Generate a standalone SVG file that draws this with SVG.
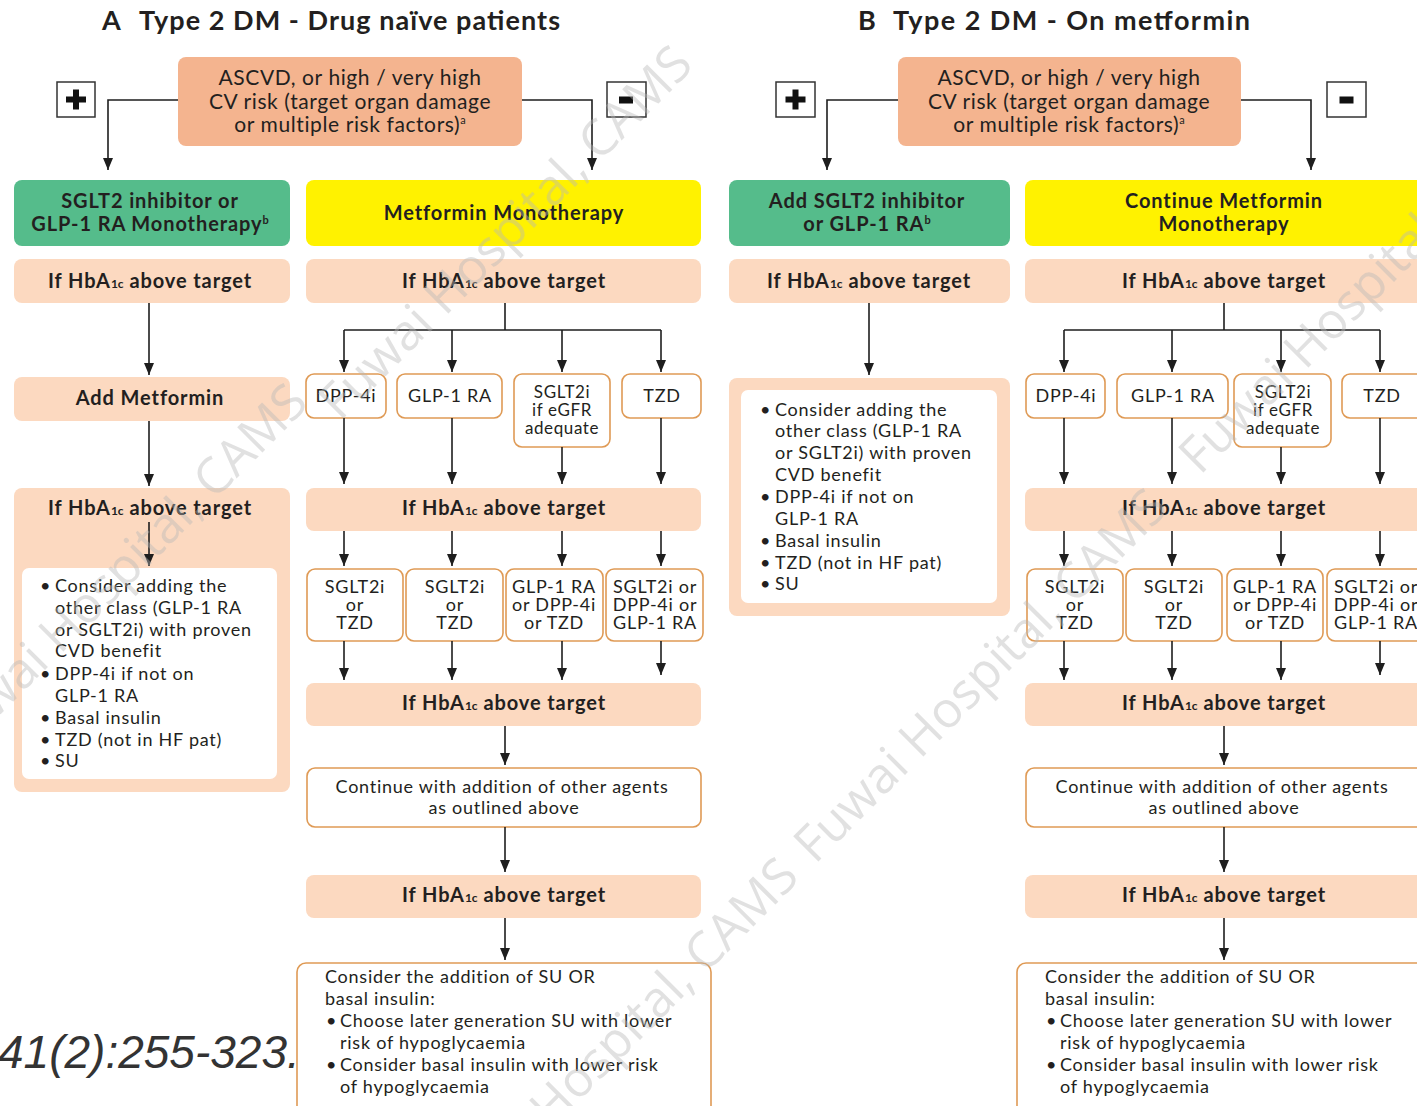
<svg xmlns="http://www.w3.org/2000/svg" width="1417" height="1106" viewBox="0 0 1417 1106">
<defs>
<marker id="ah" viewBox="0 0 12 10" refX="12" refY="5" markerWidth="12" markerHeight="11" markerUnits="userSpaceOnUse" orient="auto">
<path d="M0,0 L12,5 L0,10 z" fill="#1e1e1e"/>
</marker>
<style>
text{font-family:Lato,"Open Sans","Liberation Sans",sans-serif;fill:#231f20}
.title{font-size:27px;font-weight:bold}
.top{fill:#f4b48f}
.grn{fill:#55bc8b}
.yel{fill:#fff200}
.pch{fill:#fcd9c0}
.opt{fill:#fff;stroke:#df9a55;stroke-width:1.6}
.wht{fill:#fff}
.c{text-anchor:middle}
.t20{font-size:21px;letter-spacing:0.6px}
.b19{font-size:20px;font-weight:bold;letter-spacing:0.9px}
.r18{font-size:18px;letter-spacing:0.75px}
.r17{font-size:17px;letter-spacing:0.6px}
.sub{font-size:12px;letter-spacing:0}
.sup{font-size:11px;letter-spacing:0}
.sign{fill:#fff;stroke:#333;stroke-width:1.5}
.conn path{fill:none;stroke:#1e1e1e;stroke-width:1.6}
.arr{marker-end:url(#ah)}
.wm text{font-family:"Open Sans",Lato,sans-serif;font-size:50px;fill:#b8b8b8;fill-opacity:0.42}
.cite{font-family:"Liberation Sans",Arial,sans-serif;font-style:italic;font-size:46px;fill:#333}
</style>
</defs>
<rect width="1417" height="1106" fill="#fff"/>

<text class="cite" x="-2" y="1068">41(2):255-323.</text>

<!-- ============ PANEL A ============ -->
<g id="titleA"><text class="title" x="102" y="30">A</text><text class="title" x="139" y="30" textLength="421" lengthAdjust="spacing">Type 2 DM - Drug naïve patients</text></g>

<g id="riskA">
<rect class="top" x="178" y="57" width="344" height="89" rx="8"/>
<text class="c t20" x="350" y="85">ASCVD, or high / very high</text>
<text class="c t20" x="350" y="109">CV risk (target organ damage</text>
<text class="c t20" x="350" y="132">or multiple risk factors)<tspan class="sup" dy="-8">a</tspan></text>
</g>
<g id="plusA"><rect class="sign" x="57" y="82" width="38" height="35"/><rect x="66" y="96.5" width="20" height="6" fill="#111"/><rect x="73" y="89.5" width="6" height="20" fill="#111"/></g>
<g id="minusA"><rect class="sign" x="607" y="82" width="39" height="35"/><rect x="619" y="96.5" width="14" height="7" fill="#111"/></g>

<g id="greenA">
<rect class="grn" x="14" y="180" width="276" height="66" rx="8"/>
<text class="c b19" x="150" y="208">SGLT2 inhibitor or</text>
<text class="c b19" x="150" y="231">GLP-1 RA Monotherapy<tspan class="sup" dy="-7">b</tspan></text>
</g>
<g id="yellowA">
<rect class="yel" x="306" y="180" width="395" height="66" rx="8"/>
<text class="c b19" x="504" y="220">Metformin Monotherapy</text>
</g>

<g id="ifAL1"><rect class="pch" x="14" y="259" width="276" height="44" rx="8"/><text class="c b19" x="150" y="288">If HbA<tspan class="sub">1c</tspan> above target</text></g>
<g id="addMetA"><rect class="pch" x="14" y="377" width="276" height="44" rx="8"/><text class="c b19" x="150" y="405">Add Metformin</text></g>
<g id="ifAL2">
<rect class="pch" x="14" y="488" width="276" height="304" rx="8"/>
<text class="c b19" x="150" y="515">If HbA<tspan class="sub">1c</tspan> above target</text>
<rect class="wht" x="22" y="568" width="255" height="211" rx="7"/>
<g class="r18">
<text x="40" y="592">•</text><text x="55" y="592">Consider adding the</text>
<text x="55" y="614">other class (GLP-1 RA</text>
<text x="55" y="636">or SGLT2i) with proven</text>
<text x="55" y="657">CVD benefit</text>
<text x="40" y="680">•</text><text x="55" y="680">DPP-4i if not on</text>
<text x="55" y="702">GLP-1 RA</text>
<text x="40" y="724">•</text><text x="55" y="724">Basal insulin</text>
<text x="40" y="746">•</text><text x="55" y="746">TZD (not in HF pat)</text>
<text x="40" y="767">•</text><text x="55" y="767">SU</text>
</g>
</g>

<g id="ifAR1"><rect class="pch" x="306" y="259" width="395" height="44" rx="8"/><text class="c b19" x="504" y="288">If HbA<tspan class="sub">1c</tspan> above target</text></g>
<g id="dppA"><rect class="opt" x="306" y="374" width="80" height="44" rx="8"/><text class="c r18" x="346" y="402">DPP-4i</text></g>
<g id="glpA"><rect class="opt" x="397" y="374" width="105" height="44" rx="8"/><text class="c r18" x="450" y="402">GLP-1 RA</text></g>
<g id="sgltA"><rect class="opt" x="514" y="374" width="96" height="73" rx="8"/><text class="c r17" x="562" y="398">SGLT2i</text><text class="c r17" x="562" y="416">if eGFR</text><text class="c r17" x="562" y="434">adequate</text></g>
<g id="tzdA"><rect class="opt" x="622" y="374" width="79" height="44" rx="8"/><text class="c r18" x="662" y="402">TZD</text></g>
<g id="ifAR2"><rect class="pch" x="306" y="488" width="395" height="43" rx="8"/><text class="c b19" x="504" y="515">If HbA<tspan class="sub">1c</tspan> above target</text></g>
<g id="o1A"><rect class="opt" x="307" y="569" width="96" height="72" rx="8"/><text class="c r18" x="355" y="593">SGLT2i</text><text class="c r18" x="355" y="611">or</text><text class="c r18" x="355" y="629">TZD</text></g>
<g id="o2A"><rect class="opt" x="406" y="569" width="97" height="72" rx="8"/><text class="c r18" x="455" y="593">SGLT2i</text><text class="c r18" x="455" y="611">or</text><text class="c r18" x="455" y="629">TZD</text></g>
<g id="o3A"><rect class="opt" x="506" y="569" width="97" height="72" rx="8"/><text class="c r18" x="554" y="593">GLP-1 RA</text><text class="c r18" x="554" y="611">or DPP-4i</text><text class="c r18" x="554" y="629">or TZD</text></g>
<g id="o4A"><rect class="opt" x="606" y="569" width="97" height="72" rx="8"/><text class="c r18" x="655" y="593">SGLT2i or</text><text class="c r18" x="655" y="611">DPP-4i or</text><text class="c r18" x="655" y="629">GLP-1 RA</text></g>
<g id="ifAR3"><rect class="pch" x="306" y="683" width="395" height="43" rx="8"/><text class="c b19" x="504" y="710">If HbA<tspan class="sub">1c</tspan> above target</text></g>
<g id="contA"><rect class="opt" x="307" y="768" width="394" height="59" rx="8"/><text class="c r18" x="502" y="793">Continue with addition of other agents</text><text class="c r18" x="504" y="814">as outlined above</text></g>
<g id="ifAR4"><rect class="pch" x="306" y="875" width="395" height="43" rx="8"/><text class="c b19" x="504" y="902">If HbA<tspan class="sub">1c</tspan> above target</text></g>
<g id="finalA">
<rect class="opt" x="297" y="963" width="414" height="160" rx="9"/>
<g class="r18">
<text x="325" y="983">Consider the addition of SU OR</text>
<text x="325" y="1005">basal insulin:</text>
<text x="326" y="1027">•</text><text x="340" y="1027">Choose later generation SU with lower</text>
<text x="340" y="1049">risk of hypoglycaemia</text>
<text x="326" y="1071">•</text><text x="340" y="1071">Consider basal insulin with lower risk</text>
<text x="340" y="1093">of hypoglycaemia</text>
</g>
</g>

<!-- ============ PANEL B ============ -->
<g id="titleB"><text class="title" x="858" y="30">B</text><text class="title" x="893" y="30" textLength="357" lengthAdjust="spacing">Type 2 DM - On metformin</text></g>
<g id="riskB">
<rect class="top" x="898" y="57" width="343" height="89" rx="8"/>
<text class="c t20" x="1069" y="85">ASCVD, or high / very high</text>
<text class="c t20" x="1069" y="109">CV risk (target organ damage</text>
<text class="c t20" x="1069" y="132">or multiple risk factors)<tspan class="sup" dy="-8">a</tspan></text>
</g>
<g id="plusB"><rect class="sign" x="776" y="82" width="39" height="35"/><rect x="785.5" y="96.5" width="20" height="6" fill="#111"/><rect x="792.5" y="89.5" width="6" height="20" fill="#111"/></g>
<g id="minusB"><rect class="sign" x="1327" y="82" width="39" height="35"/><rect x="1339.5" y="96.5" width="14" height="7" fill="#111"/></g>

<g id="greenB">
<rect class="grn" x="729" y="180" width="281" height="66" rx="8"/>
<text class="c b19" x="867" y="208">Add SGLT2 inhibitor</text>
<text class="c b19" x="867" y="231">or GLP-1 RA<tspan class="sup" dy="-7">b</tspan></text>
</g>
<g id="yellowB">
<rect class="yel" x="1025" y="180" width="400" height="66" rx="8"/>
<text class="c b19" x="1224" y="208">Continue Metformin</text>
<text class="c b19" x="1224" y="231">Monotherapy</text>
</g>

<g id="ifBL1"><rect class="pch" x="729" y="259" width="281" height="44" rx="8"/><text class="c b19" x="869" y="288">If HbA<tspan class="sub">1c</tspan> above target</text></g>
<g id="optsBL">
<rect class="pch" x="729" y="378" width="281" height="238" rx="8"/>
<rect class="wht" x="741" y="390" width="256" height="213" rx="7"/>
<g class="r18">
<text x="760" y="416">•</text><text x="775" y="416">Consider adding the</text>
<text x="775" y="437">other class (GLP-1 RA</text>
<text x="775" y="459">or SGLT2i) with proven</text>
<text x="775" y="481">CVD benefit</text>
<text x="760" y="503">•</text><text x="775" y="503">DPP-4i if not on</text>
<text x="775" y="525">GLP-1 RA</text>
<text x="760" y="547">•</text><text x="775" y="547">Basal insulin</text>
<text x="760" y="569">•</text><text x="775" y="569">TZD (not in HF pat)</text>
<text x="760" y="590">•</text><text x="775" y="590">SU</text>
</g>
</g>

<g id="ifBR1"><rect class="pch" x="1025" y="259" width="400" height="44" rx="8"/><text class="c b19" x="1224" y="288">If HbA<tspan class="sub">1c</tspan> above target</text></g>
<g id="dppB"><rect class="opt" x="1026" y="374" width="79" height="44" rx="8"/><text class="c r18" x="1066" y="402">DPP-4i</text></g>
<g id="glpB"><rect class="opt" x="1117" y="374" width="111" height="44" rx="8"/><text class="c r18" x="1173" y="402">GLP-1 RA</text></g>
<g id="sgltB"><rect class="opt" x="1234" y="374" width="97" height="73" rx="8"/><text class="c r17" x="1283" y="398">SGLT2i</text><text class="c r17" x="1283" y="416">if eGFR</text><text class="c r17" x="1283" y="434">adequate</text></g>
<g id="tzdB"><rect class="opt" x="1342" y="374" width="85" height="44" rx="8"/><text class="c r18" x="1382" y="402">TZD</text></g>
<g id="ifBR2"><rect class="pch" x="1025" y="488" width="400" height="43" rx="8"/><text class="c b19" x="1224" y="515">If HbA<tspan class="sub">1c</tspan> above target</text></g>
<g id="o1B"><rect class="opt" x="1027" y="569" width="96" height="72" rx="8"/><text class="c r18" x="1075" y="593">SGLT2i</text><text class="c r18" x="1075" y="611">or</text><text class="c r18" x="1075" y="629">TZD</text></g>
<g id="o2B"><rect class="opt" x="1126" y="569" width="96" height="72" rx="8"/><text class="c r18" x="1174" y="593">SGLT2i</text><text class="c r18" x="1174" y="611">or</text><text class="c r18" x="1174" y="629">TZD</text></g>
<g id="o3B"><rect class="opt" x="1227" y="569" width="96" height="72" rx="8"/><text class="c r18" x="1275" y="593">GLP-1 RA</text><text class="c r18" x="1275" y="611">or DPP-4i</text><text class="c r18" x="1275" y="629">or TZD</text></g>
<g id="o4B"><rect class="opt" x="1327" y="569" width="100" height="72" rx="8"/><text class="c r18" x="1376" y="593">SGLT2i or</text><text class="c r18" x="1376" y="611">DPP-4i or</text><text class="c r18" x="1376" y="629">GLP-1 RA</text></g>
<g id="ifBR3"><rect class="pch" x="1025" y="683" width="400" height="43" rx="8"/><text class="c b19" x="1224" y="710">If HbA<tspan class="sub">1c</tspan> above target</text></g>
<g id="contB"><rect class="opt" x="1026" y="768" width="400" height="59" rx="8"/><text class="c r18" x="1222" y="793">Continue with addition of other agents</text><text class="c r18" x="1224" y="814">as outlined above</text></g>
<g id="ifBR4"><rect class="pch" x="1025" y="875" width="400" height="43" rx="8"/><text class="c b19" x="1224" y="902">If HbA<tspan class="sub">1c</tspan> above target</text></g>
<g id="finalB">
<rect class="opt" x="1017" y="963" width="420" height="160" rx="9"/>
<g class="r18">
<text x="1045" y="983">Consider the addition of SU OR</text>
<text x="1045" y="1005">basal insulin:</text>
<text x="1046" y="1027">•</text><text x="1060" y="1027">Choose later generation SU with lower</text>
<text x="1060" y="1049">risk of hypoglycaemia</text>
<text x="1046" y="1071">•</text><text x="1060" y="1071">Consider basal insulin with lower risk</text>
<text x="1060" y="1093">of hypoglycaemia</text>
</g>
</g>

<!-- ============ CONNECTORS ============ -->
<g id="connectors" class="conn">
<path class="arr" d="M178,100 H108 V170"/>
<path class="arr" d="M522,100 H592 V170"/>
<path class="arr" d="M149,303 V375"/>
<path class="arr" d="M149,421 V486"/>
<path class="arr" d="M149,522 V566"/>
<path d="M505,303 V330 M344,330 H661"/>
<path class="arr" d="M344,330 V372"/>
<path class="arr" d="M452,330 V372"/>
<path class="arr" d="M562,330 V372"/>
<path class="arr" d="M661,330 V372"/>
<path class="arr" d="M344,418 V484"/>
<path class="arr" d="M452,418 V484"/>
<path class="arr" d="M562,447 V484"/>
<path class="arr" d="M661,418 V484"/>
<path class="arr" d="M344,531 V566"/>
<path class="arr" d="M452,531 V566"/>
<path class="arr" d="M562,531 V566"/>
<path class="arr" d="M661,531 V566"/>
<path class="arr" d="M344,641 V680"/>
<path class="arr" d="M452,641 V680"/>
<path class="arr" d="M562,641 V680"/>
<path class="arr" d="M661,641 V675"/>
<path class="arr" d="M505,726 V765"/>
<path class="arr" d="M505,827 V872"/>
<path class="arr" d="M505,918 V960"/>

<path class="arr" d="M898,100 H827 V170"/>
<path class="arr" d="M1241,100 H1311 V170"/>
<path class="arr" d="M869,303 V375"/>
<path d="M1224,303 V330 M1064,330 H1380"/>
<path class="arr" d="M1064,330 V372"/>
<path class="arr" d="M1172,330 V372"/>
<path class="arr" d="M1281,330 V372"/>
<path class="arr" d="M1380,330 V372"/>
<path class="arr" d="M1064,418 V484"/>
<path class="arr" d="M1172,418 V484"/>
<path class="arr" d="M1281,447 V484"/>
<path class="arr" d="M1380,418 V484"/>
<path class="arr" d="M1064,531 V566"/>
<path class="arr" d="M1172,531 V566"/>
<path class="arr" d="M1281,531 V566"/>
<path class="arr" d="M1380,531 V566"/>
<path class="arr" d="M1064,641 V680"/>
<path class="arr" d="M1172,641 V680"/>
<path class="arr" d="M1281,641 V680"/>
<path class="arr" d="M1380,641 V675"/>
<path class="arr" d="M1224,726 V765"/>
<path class="arr" d="M1224,827 V872"/>
<path class="arr" d="M1224,918 V960"/>
</g>

<!-- watermark -->
<g id="watermark" class="wm">
<text transform="translate(-45,760) rotate(-45)">Fuwai Hospital, CAMS</text>
<text transform="translate(340,422) rotate(-45)">Fuwai Hospital, CAMS</text>
<text transform="translate(446,1234) rotate(-45)">Fuwai Hospital, CAMS</text>
<text transform="translate(815,865) rotate(-45)">Fuwai Hospital, CAMS</text>
<text transform="translate(1200,476) rotate(-45)">Fuwai Hospital, CAMS</text>
</g>
</svg>
